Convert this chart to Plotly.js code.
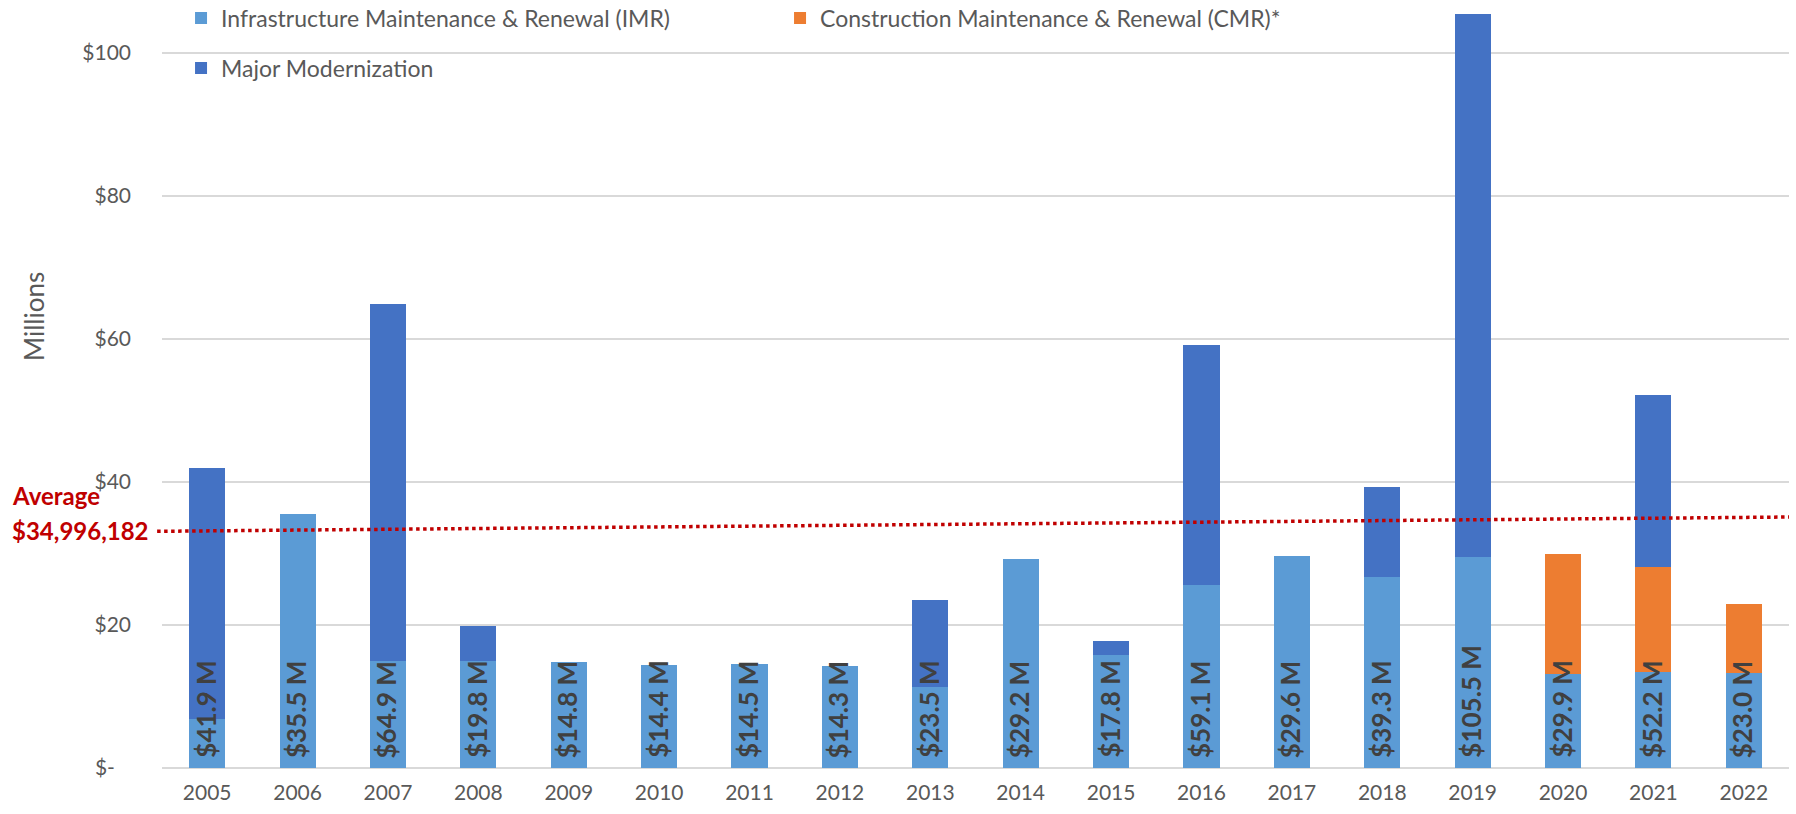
<!DOCTYPE html>
<html>
<head>
<meta charset="utf-8">
<script src="https://cdn.plot.ly/plotly-3.0.1.min.js"></script>
<style>
  html, body { margin: 0; padding: 0; background: #ffffff; }
  #chart { width: 1796px; height: 814px; }
</style>
</head>
<body>
<div id="chart"></div>
<script>
// ---- data (values in $ millions) ----
const years = ['2005','2006','2007','2008','2009','2010','2011','2012','2013','2014','2015','2016','2017','2018','2019','2020','2021','2022'];
const imr = [6.8, 35.5, 14.9, 14.9, 14.8, 14.4, 14.5, 14.3, 11.3, 29.2, 15.8, 25.6, 29.6, 26.7, 29.5, 13.2, 13.4, 13.3];
const cmr = [0, 0, 0, 0, 0, 0, 0, 0, 0, 0, 0, 0, 0, 0, 0, 16.7, 14.7, 9.7];
const majorMod = [35.1, 0, 50.0, 4.9, 0, 0, 0, 0, 12.2, 0, 2.0, 33.5, 0, 12.6, 76.0, 0, 24.1, 0];
const totals = [41.9, 35.5, 64.9, 19.8, 14.8, 14.4, 14.5, 14.3, 23.5, 29.2, 17.8, 59.1, 29.6, 39.3, 105.5, 29.9, 52.2, 23.0];
const averageLabel = ['Average', '$34,996,182'];
const averageLine = [33.1, 35.1];   // as drawn (slightly tilted) at left and right ends
const yTickVals = [0, 20, 40, 60, 80, 100];
const yTickText = ['$-\u00A0\u00A0\u00A0', '$20', '$40', '$60', '$80', '$100'];

const FONT = 'Lato, "Open Sans", sans-serif';
const GREY = '#595959';

const traces = [
  {
    type: 'bar', name: 'Infrastructure Maintenance & Renewal (IMR)',
    x: years, y: imr, marker: { color: '#5B9BD5' }, legend: 'legend', hoverinfo: 'x+y+name'
  },
  {
    type: 'bar', name: 'Construction Maintenance & Renewal (CMR)*',
    x: years, y: cmr, marker: { color: '#ED7D31' }, legend: 'legend', hoverinfo: 'x+y+name'
  },
  {
    type: 'bar', name: 'Major Modernization',
    x: years, y: majorMod, marker: { color: '#4472C4' }, legend: 'legend2', hoverinfo: 'x+y+name'
  }
];

// total labels at the base of each bar (x given as category index)
const annotations = years.map((yr, i) => ({
  x: i, y: 0, xref: 'x', yref: 'y',
  text: '<b>$' + totals[i].toFixed(1) + ' M</b>',
  textangle: -90, showarrow: false,
  xanchor: 'center', yanchor: 'bottom', yshift: 8, xshift: -2,
  font: { family: FONT, size: 26, color: '#404040' }
}));

annotations.push({
  xref: 'paper', yref: 'paper', x: -0.0787, y: (768 - 316) / 768,
  text: 'Millions', textangle: -90, showarrow: false,
  xanchor: 'center', yanchor: 'middle',
  font: { family: FONT, size: 26, color: GREY }
});
annotations.push({
  xref: 'paper', yref: 'paper', x: -0.0934, y: (768 - 496) / 768,
  text: '<b>' + averageLabel[0] + '</b>', showarrow: false,
  xanchor: 'left', yanchor: 'middle',
  font: { family: FONT, size: 24, color: '#C00000' }
});
annotations.push({
  xref: 'paper', yref: 'paper', x: -0.0934, y: (768 - 530) / 768,
  text: '<b>' + averageLabel[1] + '</b>', showarrow: false,
  xanchor: 'left', yanchor: 'middle',
  font: { family: FONT, size: 24, color: '#C00000' }
});

const layout = {
  width: 1796, height: 814,
  paper_bgcolor: '#ffffff', plot_bgcolor: '#ffffff',
  margin: { l: 162, r: 7, t: 0, b: 46, autoexpand: false },
  barmode: 'stack',
  bargap: 0.60,
  font: { family: FONT, color: GREY },
  showlegend: true,
  legend: {
    orientation: 'h', xref: 'paper', yref: 'paper',
    x: 0.0117, xanchor: 'left', y: (768 - 18) / 768, yanchor: 'middle',
    entrywidth: 554, entrywidthmode: 'pixels', traceorder: 'normal',
    bgcolor: 'rgba(0,0,0,0)', borderwidth: 0,
    font: { family: FONT, size: 23, color: GREY }
  },
  legend2: {
    orientation: 'h', xref: 'paper', yref: 'paper',
    x: 0.0117, xanchor: 'left', y: (768 - 68) / 768, yanchor: 'middle',
    bgcolor: 'rgba(0,0,0,0)', borderwidth: 0,
    font: { family: FONT, size: 23, color: GREY }
  },
  xaxis: {
    type: 'category', range: [-0.5, years.length - 0.5], autorange: false,
    showgrid: false, zeroline: false,
    showline: false, ticks: '',
    tickfont: { family: FONT, size: 21, color: GREY },
    ticklabelstandoff: 10
  },
  yaxis: {
    range: [0, 107.4], autorange: false, showgrid: true, gridcolor: '#D9D9D9', gridwidth: 2,
    zeroline: true, zerolinecolor: '#D9D9D9', zerolinewidth: 2,
    showline: false, ticks: '',
    tickvals: yTickVals, ticktext: yTickText,
    tickfont: { family: FONT, size: 21, color: GREY },
    ticklabelstandoff: 30
  },
  shapes: [{
    type: 'line', xref: 'paper', yref: 'y',
    x0: -0.003, x1: 1.0, y0: averageLine[0], y1: averageLine[1],
    line: { color: '#C00000', width: 3.5, dash: 'dot' }
  }],
  annotations: annotations
};

Plotly.newPlot('chart', traces, layout, { displayModeBar: false, responsive: false });
</script>
</body>
</html>
